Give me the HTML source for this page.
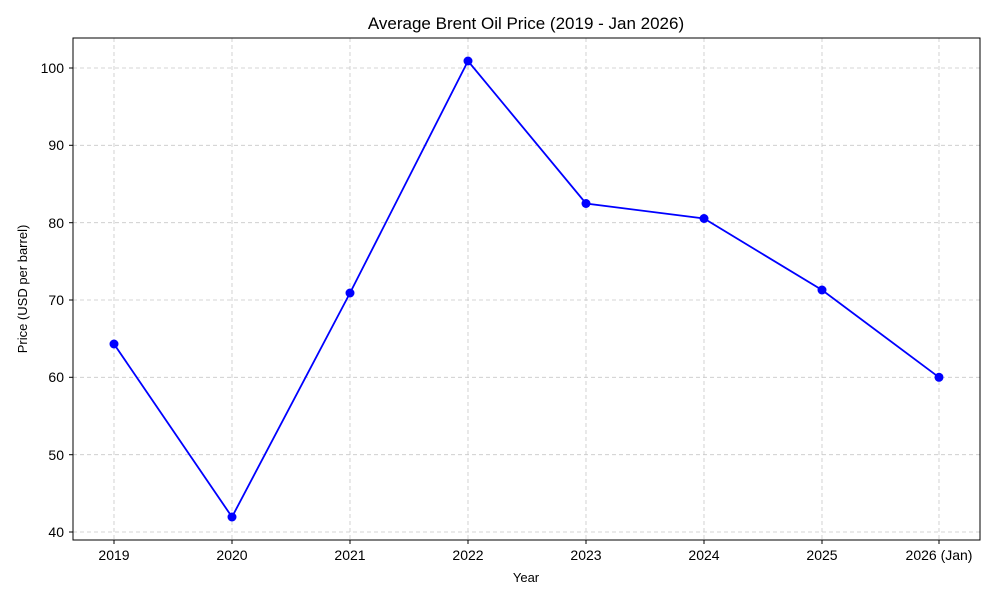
<!DOCTYPE html>
<html><head><meta charset="utf-8"><style>
body{margin:0;background:#fff;}
svg text{font-family:"Liberation Sans",sans-serif;fill:#000;}
</style></head><body>
<svg width="1000" height="600" xmlns="http://www.w3.org/2000/svg">
<rect width="1000" height="600" fill="#fff"/>
<g stroke="#c8c8c8" stroke-width="0.8" stroke-dasharray="4,3">
<line x1="114" y1="38" x2="114" y2="540"/><line x1="232" y1="38" x2="232" y2="540"/>
<line x1="350" y1="38" x2="350" y2="540"/><line x1="468" y1="38" x2="468" y2="540"/>
<line x1="586" y1="38" x2="586" y2="540"/><line x1="704" y1="38" x2="704" y2="540"/>
<line x1="822" y1="38" x2="822" y2="540"/><line x1="939" y1="38" x2="939" y2="540"/>
<line x1="73" y1="68" x2="980" y2="68"/><line x1="73" y1="145.3" x2="980" y2="145.3"/>
<line x1="73" y1="222.7" x2="980" y2="222.7"/><line x1="73" y1="300" x2="980" y2="300"/>
<line x1="73" y1="377.3" x2="980" y2="377.3"/><line x1="73" y1="454.7" x2="980" y2="454.7"/>
<line x1="73" y1="532" x2="980" y2="532"/>
</g>
<rect x="73" y="38" width="907" height="502" fill="none" stroke="#000" stroke-width="1"/>
<g stroke="#000" stroke-width="1">
<line x1="114" y1="540" x2="114" y2="544"/><line x1="232" y1="540" x2="232" y2="544"/>
<line x1="350" y1="540" x2="350" y2="544"/><line x1="468" y1="540" x2="468" y2="544"/>
<line x1="586" y1="540" x2="586" y2="544"/><line x1="704" y1="540" x2="704" y2="544"/>
<line x1="822" y1="540" x2="822" y2="544"/><line x1="939" y1="540" x2="939" y2="544"/>
<line x1="69" y1="68" x2="73" y2="68"/><line x1="69" y1="145.3" x2="73" y2="145.3"/>
<line x1="69" y1="222.7" x2="73" y2="222.7"/><line x1="69" y1="300" x2="73" y2="300"/>
<line x1="69" y1="377.3" x2="73" y2="377.3"/><line x1="69" y1="454.7" x2="73" y2="454.7"/>
<line x1="69" y1="532" x2="73" y2="532"/>
</g>
<g font-size="14" text-anchor="middle">
<text x="114" y="560">2019</text><text x="232" y="560">2020</text><text x="350" y="560">2021</text>
<text x="468" y="560">2022</text><text x="586" y="560">2023</text><text x="704" y="560">2024</text>
<text x="822" y="560">2025</text><text x="939" y="560">2026 (Jan)</text>
</g>
<g font-size="14" text-anchor="end">
<text x="64" y="73">100</text><text x="64" y="150">90</text><text x="64" y="228">80</text>
<text x="64" y="305">70</text><text x="64" y="382">60</text><text x="64" y="460">50</text><text x="64" y="537">40</text>
</g>
<text x="526" y="582" font-size="13" text-anchor="middle">Year</text>
<text transform="translate(27,289) rotate(-90)" font-size="13" text-anchor="middle">Price (USD per barrel)</text>
<text x="526" y="29" font-size="17" text-anchor="middle">Average Brent Oil Price (2019 - Jan 2026)</text>
<polyline fill="none" stroke="#0000ff" stroke-width="1.8" points="114,344 232,517 350,293 468,61 586,203.5 704,218.5 822,290 939,377.3"/>
<g fill="#0000ff">
<circle cx="114" cy="344" r="4.5"/><circle cx="232" cy="517" r="4.5"/><circle cx="350" cy="293" r="4.5"/>
<circle cx="468" cy="61" r="4.5"/><circle cx="586" cy="203.5" r="4.5"/><circle cx="704" cy="218.5" r="4.5"/>
<circle cx="822" cy="290" r="4.5"/><circle cx="939" cy="377.3" r="4.5"/>
</g>
</svg>
</body></html>
